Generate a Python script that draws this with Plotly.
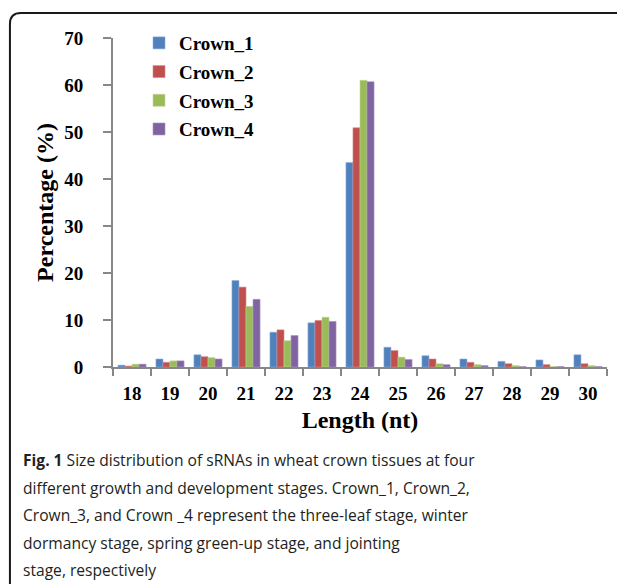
import plotly.graph_objects as go

lengths = ["18", "19", "20", "21", "22", "23", "24", "25", "26", "27", "28", "29", "30"]
crown_1 = [0.4, 1.7, 2.6, 18.4, 7.4, 9.4, 43.5, 4.2, 2.4, 1.7, 1.2, 1.5, 2.6]
crown_2 = [0.2, 1.0, 2.2, 17.0, 7.9, 9.9, 50.9, 3.5, 1.7, 1.0, 0.7, 0.5, 0.7]
crown_3 = [0.6, 1.3, 2.0, 12.9, 5.6, 10.6, 61.0, 2.1, 0.7, 0.5, 0.3, 0.1, 0.3]
crown_4 = [0.6, 1.3, 1.7, 14.4, 6.7, 9.7, 60.7, 1.6, 0.5, 0.3, 0.1, 0.1, 0.1]
series_names = ["Crown_1", "Crown_2", "Crown_3", "Crown_4"]
colors = ["#4F81BD", "#C0504D", "#9BBB59", "#8064A2"]
edge_colors = ["#8FB0D8", "#D98A88", "#C0D69A", "#A993C2"]

caption_lines = [
    "<b>Fig. 1</b> Size distribution of sRNAs in wheat crown tissues at four",
    "different growth and development stages. Crown_1, Crown_2,",
    "Crown_3, and Crown _4 represent the three-leaf stage, winter",
    "dormancy stage, spring green-up stage, and jointing",
    "stage, respectively",
]

# page body has an 8px margin, so the figure is drawn 8px in from the corner
OFF = 8
W, H = 625 - OFF, 584 - OFF
# plot area in reference-image pixels
RL, RR, RT, RB = 113, 606.7, 38, 367.5
PL, PR, PT, PB = RL - OFF, RR - OFF, RT - OFF, RB - OFF


def xp(px):
    return (px - RL) / (RR - RL)


def yp(py):
    return (RB - py) / (RB - RT)


fig = go.Figure()
for name, vals, c, ec in zip(series_names, [crown_1, crown_2, crown_3, crown_4], colors, edge_colors):
    fig.add_trace(go.Bar(
        x=lengths, y=vals, name=name, legendgroup=name,
        marker=dict(color=c, line=dict(color=ec, width=0.6)),
    ))

serif = "Liberation Serif, Times New Roman, serif"

fig.update_layout(
    width=W, height=H,
    margin=dict(l=PL, r=W - PR, t=PT, b=H - PB, pad=0),
    paper_bgcolor="white", plot_bgcolor="white",
    barmode="group", bargap=0.26, bargroupgap=0,
    showlegend=True,
    legend=dict(
        x=xp(139), y=yp(24), xanchor="left", yanchor="top",
        font=dict(family=serif, size=19, color="black", weight="bold"),
        bgcolor="rgba(0,0,0,0)", tracegroupgap=1,
        itemwidth=30,
    ),
    xaxis=dict(
        type="category", tickson="boundaries",
        showline=True, linecolor="#878787", linewidth=2,
        ticks="outside", ticklen=7, tickcolor="#878787", tickwidth=2,
        tickfont=dict(family=serif, size=19, color="black", weight="bold"),
        ticklabelstandoff=8,
        title=dict(text="Length (nt)", font=dict(family=serif, size=24, color="black", weight="bold"), standoff=8),
        showgrid=False, zeroline=False,
    ),
    yaxis=dict(
        range=[0, 70], dtick=10,
        showline=True, linecolor="#878787", linewidth=2,
        ticks="outside", ticklen=8, tickcolor="#878787", tickwidth=2,
        tickfont=dict(family=serif, size=19, color="black", weight="bold"),
        ticklabelstandoff=16,
        title=dict(text="Percentage (%)", font=dict(family=serif, size=24, color="black", weight="bold"), standoff=4),
        showgrid=False, zeroline=False,
    ),
)

# frame with rounded top-left corner
path = (f"M {xp(640)},{yp(13)} L {xp(21)},{yp(13)} "
        f"Q {xp(10)},{yp(13)} {xp(10)},{yp(24)} L {xp(10)},{yp(600)}")
fig.add_shape(type="path", path=path, xref="paper", yref="paper",
              line=dict(color="#1a1a1a", width=2), layer="above")

baselines = [469, 496.5, 524, 551.5, 579]
for line, bl in zip(caption_lines, baselines):
    fig.add_annotation(
        text=line, xref="paper", yref="paper",
        x=xp(21), y=yp(bl + 5), xanchor="left", yanchor="bottom",
        showarrow=False, align="left",
        font=dict(family="Open Sans, sans-serif", size=15.6, color="#231f20"),
    )

fig.write_html("out.html")
